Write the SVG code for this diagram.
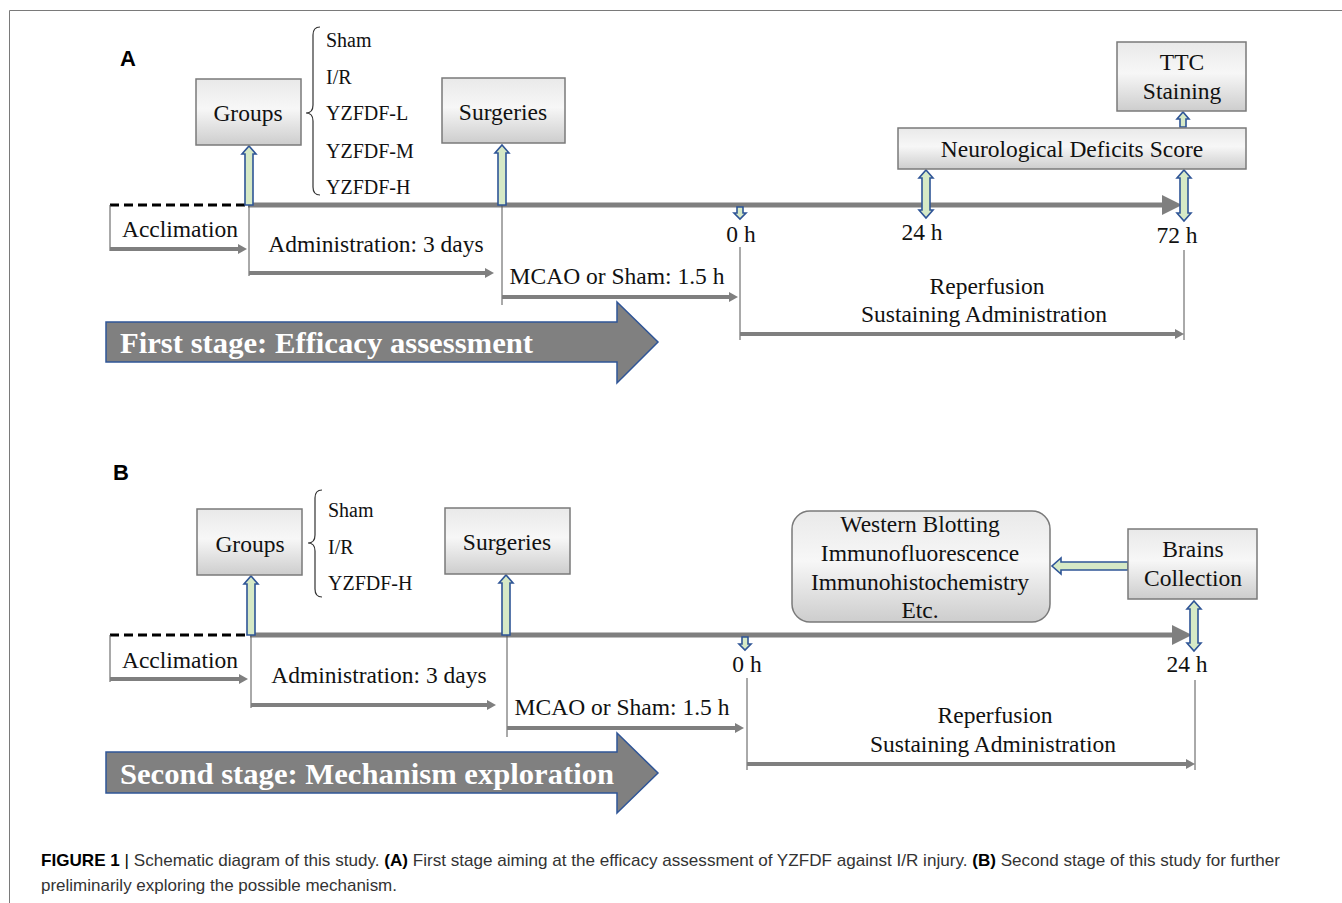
<svg xmlns="http://www.w3.org/2000/svg" width="1342" height="903" viewBox="0 0 1342 903">
<defs>
<linearGradient id="boxg" x1="0" y1="0" x2="0" y2="1">
<stop offset="0" stop-color="#e9e9e9"/>
<stop offset="0.45" stop-color="#f7f7f7"/>
<stop offset="1" stop-color="#cdcdcd"/>
</linearGradient>
<marker id="ah" markerUnits="userSpaceOnUse" markerWidth="10" markerHeight="12" refX="2" refY="6" orient="auto" viewBox="0 0 10 12">
<path d="M0,1 L9,6 L0,11 Z" fill="#7f7f7f"/>
</marker>
<style>
.ser{font-family:"Liberation Serif","Times New Roman",serif;fill:#111;}
.lbl{font-size:23.5px;text-anchor:middle;}
.grp{font-size:20px;}
.box{fill:url(#boxg);stroke:#7a7a7a;stroke-width:1.5;}
.hol{fill:#d6e9c6;stroke:#2f5597;stroke-width:1.6;stroke-linejoin:miter;}
.tl{stroke:#7f7f7f;stroke-width:5;fill:none;}
.dash{stroke:#000;stroke-width:3;stroke-dasharray:9,5;fill:none;}
.sub{stroke:#7f7f7f;stroke-width:4;fill:none;marker-end:url(#ah);}
.vl{stroke:#555;stroke-width:1;fill:none;}
.brace{stroke:#333;stroke-width:1.2;fill:none;}
.big{fill:#808080;stroke:#2f5597;stroke-width:1.5;}
.bigt{font-family:"Liberation Serif","Times New Roman",serif;font-weight:bold;font-size:30px;fill:#fff;}
.panel{font-family:"Liberation Sans",Arial,sans-serif;font-weight:bold;font-size:22px;fill:#000;}
.cap{font-family:"Liberation Sans",Arial,sans-serif;font-size:17px;fill:#333;}
</style>
</defs>
<rect x="0" y="0" width="1342" height="903" fill="#fff"/>
<path d="M9.5,903 L9.5,10.5 L1342,10.5" stroke="#7a7a7a" stroke-width="1" fill="none"/>

<!-- Panel A -->
<text class="panel" x="120" y="66">A</text>

<g id="connectors-A">
<line class="dash" x1="110" y1="205" x2="248" y2="205"/>
<line class="tl" x1="248" y1="205" x2="1163" y2="205"/>
<polygon points="1162,195 1182,205 1162,215" fill="#7f7f7f"/>
<line class="vl" x1="110" y1="205" x2="110" y2="251"/>
<line class="sub" x1="110" y1="249" x2="240" y2="249"/>
<line class="vl" x1="249" y1="205" x2="249" y2="276"/>
<line class="sub" x1="249" y1="273" x2="487" y2="273"/>
<line class="vl" x1="502" y1="205" x2="502" y2="305"/>
<line class="sub" x1="502" y1="297" x2="731" y2="297"/>
<line class="vl" x1="740" y1="247" x2="740" y2="340"/>
<line class="sub" x1="740" y1="334" x2="1177" y2="334"/>
<line class="vl" x1="1184" y1="250" x2="1184" y2="340"/>
<path class="hol" d="M245,205 L245,154 L242,154 L249,146 L256,154 L253,154 L253,205 Z"/>
<path class="hol" d="M498,205 L498,153 L495,153 L502,145 L509,153 L506,153 L506,205 Z"/>
<path class="hol" d="M737,207 L737,213 L734,213 L740,219 L746,213 L743,213 L743,207 Z"/>
<path class="hol" d="M926,170 L933,178 L930,178 L930,210 L933,210 L926,218 L919,210 L922,210 L922,178 L919,178 Z"/>
<path class="hol" d="M1184,170 L1191,178 L1188,178 L1188,213 L1191,213 L1184,221 L1177,213 L1180,213 L1180,178 L1177,178 Z"/>
<path class="hol" d="M1180,127 L1180,119 L1177,119 L1183,112 L1189,119 L1186,119 L1186,127 Z"/>
</g>

<g id="groupsA">
<rect class="box" x="196" y="79" width="105" height="66"/>
<text class="ser lbl" x="248" y="121">Groups</text>
</g>
<g id="groupListA">
<path class="brace" d="M320,27 Q313,27 313,35 L313,105 Q313,113 306,113 Q313,113 313,121 L313,187 Q313,195 320,195"/>
<text class="ser grp" x="326" y="47">Sham</text>
<text class="ser grp" x="326" y="84">I/R</text>
<text class="ser grp" x="326" y="120">YZFDF-L</text>
<text class="ser grp" x="326" y="158">YZFDF-M</text>
<text class="ser grp" x="326" y="194">YZFDF-H</text>
</g>
<g id="surgeriesA">
<rect class="box" x="442" y="78" width="123" height="65"/>
<text class="ser lbl" x="503" y="120">Surgeries</text>
</g>
<g id="ndsA">
<rect class="box" x="898" y="128" width="348" height="41"/>
<text class="ser lbl" x="1072" y="157">Neurological Deficits Score</text>
</g>
<g id="ttcA">
<rect class="box" x="1117" y="42" width="129" height="69"/>
<text class="ser lbl" x="1182" y="70">TTC</text>
<text class="ser lbl" x="1182" y="99">Staining</text>
</g>
<g id="labelsA">
<text class="ser lbl" x="180" y="237">Acclimation</text>
<text class="ser lbl" x="376" y="252">Administration: 3 days</text>
<text class="ser lbl" x="617" y="284">MCAO or Sham: 1.5 h</text>
<text class="ser lbl" x="741" y="242">0 h</text>
<text class="ser lbl" x="922" y="240">24 h</text>
<text class="ser lbl" x="1177" y="243">72 h</text>
<text class="ser lbl" x="987" y="294">Reperfusion</text>
<text class="ser lbl" x="984" y="322">Sustaining Administration</text>
</g>
<g id="stageA">
<path class="big" d="M106,322 L617,322 L617,302 L658,342 L617,383 L617,362 L106,362 Z"/>
<text class="bigt" x="120" y="353" textLength="413" lengthAdjust="spacingAndGlyphs">First stage: Efficacy assessment</text>
</g>

<!-- Panel B -->
<text class="panel" x="113" y="480">B</text>

<g id="connectors-B">
<line class="dash" x1="110" y1="635" x2="250" y2="635"/>
<line class="tl" x1="250" y1="635" x2="1173" y2="635"/>
<polygon points="1172,625 1192,635 1172,645" fill="#7f7f7f"/>
<line class="vl" x1="110" y1="635" x2="110" y2="682"/>
<line class="sub" x1="110" y1="679" x2="241" y2="679"/>
<line class="vl" x1="251" y1="635" x2="251" y2="708"/>
<line class="sub" x1="251" y1="705" x2="489" y2="705"/>
<line class="vl" x1="507" y1="635" x2="507" y2="737"/>
<line class="sub" x1="507" y1="728" x2="737" y2="728"/>
<line class="vl" x1="747" y1="678" x2="747" y2="770"/>
<line class="sub" x1="747" y1="764" x2="1188" y2="764"/>
<line class="vl" x1="1195" y1="680" x2="1195" y2="770"/>
<path class="hol" d="M247,635 L247,584 L244,584 L251,576 L258,584 L255,584 L255,635 Z"/>
<path class="hol" d="M502,635 L502,583 L499,583 L506,575 L513,583 L510,583 L510,635 Z"/>
<path class="hol" d="M742,637 L742,644 L739,644 L745,650 L751,644 L748,644 L748,637 Z"/>
<path class="hol" d="M1194,601 L1201,609 L1198,609 L1198,643 L1201,643 L1194,651 L1187,643 L1190,643 L1190,609 L1187,609 Z"/>
<path class="hol" d="M1128,562 L1061,562 L1061,558 L1052,566 L1061,574 L1061,570 L1128,570 Z"/>
</g>

<g id="groupsB">
<rect class="box" x="197" y="509" width="105" height="66"/>
<text class="ser lbl" x="250" y="552">Groups</text>
</g>
<g id="groupListB">
<path class="brace" d="M322,490 Q315,490 315,498 L315,535 Q315,543 308,543 Q315,543 315,551 L315,589 Q315,597 322,597"/>
<text class="ser grp" x="328" y="517">Sham</text>
<text class="ser grp" x="328" y="554">I/R</text>
<text class="ser grp" x="328" y="590">YZFDF-H</text>
</g>
<g id="surgeriesB">
<rect class="box" x="445" y="508" width="125" height="66"/>
<text class="ser lbl" x="507" y="550">Surgeries</text>
</g>
<g id="assaysB">
<rect class="box" x="792" y="511" width="258" height="111" rx="18" ry="18" stroke="#333"/>
<text class="ser lbl" x="920" y="532">Western Blotting</text>
<text class="ser lbl" x="920" y="561">Immunofluorescence</text>
<text class="ser lbl" x="920" y="590">Immunohistochemistry</text>
<text class="ser lbl" x="920" y="618">Etc.</text>
</g>
<g id="brainsB">
<rect class="box" x="1128" y="529" width="129" height="70"/>
<text class="ser lbl" x="1193" y="557">Brains</text>
<text class="ser lbl" x="1193" y="586">Collection</text>
</g>
<g id="labelsB">
<text class="ser lbl" x="180" y="668">Acclimation</text>
<text class="ser lbl" x="379" y="683">Administration: 3 days</text>
<text class="ser lbl" x="622" y="715">MCAO or Sham: 1.5 h</text>
<text class="ser lbl" x="747" y="672">0 h</text>
<text class="ser lbl" x="1187" y="672">24 h</text>
<text class="ser lbl" x="995" y="723">Reperfusion</text>
<text class="ser lbl" x="993" y="752">Sustaining Administration</text>
</g>
<g id="stageB">
<path class="big" d="M106,752 L617,752 L617,733 L658,773 L617,813 L617,793 L106,793 Z"/>
<text class="bigt" x="120" y="784" textLength="494" lengthAdjust="spacingAndGlyphs">Second stage: Mechanism exploration</text>
</g>

<!-- Caption -->
<text class="cap" x="41" y="866" textLength="1239" lengthAdjust="spacingAndGlyphs"><tspan font-weight="bold" fill="#000">FIGURE 1</tspan><tspan fill="#000"> | </tspan>Schematic diagram of this study. <tspan font-weight="bold" fill="#000">(A)</tspan> First stage aiming at the efficacy assessment of YZFDF against I/R injury. <tspan font-weight="bold" fill="#000">(B)</tspan> Second stage of this study for further</text>
<text class="cap" x="41" y="891" textLength="356" lengthAdjust="spacingAndGlyphs">preliminarily exploring the possible mechanism.</text>
</svg>
